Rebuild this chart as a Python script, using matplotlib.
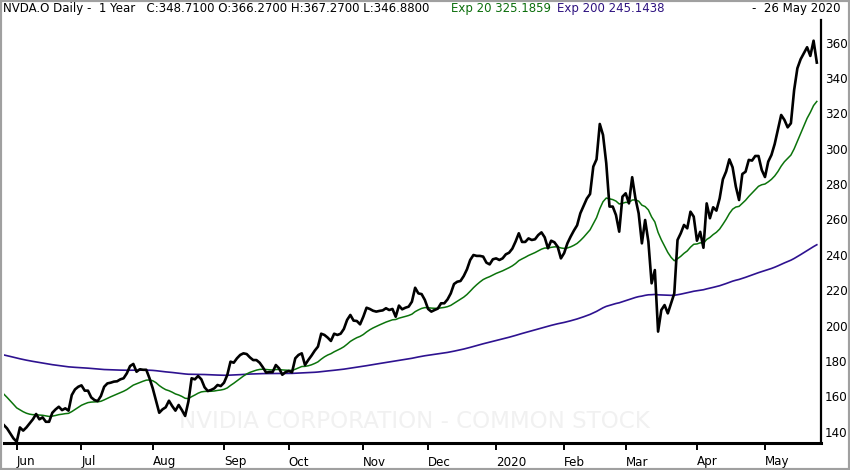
import numpy as np
import pandas as pd
import matplotlib
matplotlib.use("Agg")
import matplotlib.pyplot as plt
from matplotlib.patches import Rectangle

# ---- data -------------------------------------------------------------
holidays = ["2019-07-04", "2019-09-02", "2019-11-28", "2019-12-25", "2020-01-01",
            "2020-01-20", "2020-02-17", "2020-04-10", "2020-05-25"]
start_date = "2019-05-28"
end_date = "2020-05-26"

close = [
    143.8, 141.9, 139.0, 136.2, 134.3, 142.4, 140.6, 142.4, 144.7, 147.0,
    150.0, 147.0, 148.1, 145.6, 145.6, 150.7, 152.6, 154.1, 152.2, 153.2,
    151.9, 160.7, 163.9, 165.4, 166.2, 163.2, 163.2, 159.4, 157.9, 157.3,
    160.2, 165.4, 167.3, 167.7, 168.3, 168.5, 169.6, 170.2, 173.0, 177.1,
    178.3, 173.9, 175.3, 175.0, 175.0, 170.2, 164.5, 157.5, 150.7, 152.6,
    153.8, 157.5, 154.5, 151.9, 155.1, 152.2, 148.9, 157.0, 170.2, 169.6,
    171.5, 169.6, 165.1, 163.0, 163.6, 164.5, 166.4, 165.8, 167.7, 172.0,
    179.6, 179.0, 181.5, 183.4, 184.3, 183.9, 182.0, 180.5, 180.5, 179.0,
    176.4, 173.4, 173.7, 173.7, 177.7, 175.8, 172.2, 173.7, 174.3, 173.6,
    181.5, 183.4, 184.3, 177.7, 180.5, 183.0, 185.8, 188.1, 195.4, 194.7,
    193.2, 191.3, 195.4, 194.7, 195.4, 198.1, 203.2, 206.0, 202.8, 202.6,
    200.7, 205.0, 210.1, 209.4, 208.4, 207.9, 208.3, 208.6, 209.8, 208.8,
    209.4, 205.0, 211.3, 209.2, 210.1, 210.7, 213.5, 221.4, 218.2, 217.8,
    214.5, 209.4, 207.9, 208.8, 209.6, 212.6, 212.6, 214.8, 218.2, 223.5,
    224.8, 225.2, 228.0, 231.8, 237.1, 239.9, 239.4, 239.4, 239.0, 235.6,
    234.6, 237.5, 238.0, 237.1, 238.0, 240.3, 241.2, 243.5, 247.5, 252.2,
    247.3, 247.3, 249.3, 248.4, 248.8, 251.2, 252.7, 249.9, 243.7, 248.0,
    247.1, 244.6, 238.0, 241.0, 246.5, 250.3, 253.7, 256.7, 263.5, 267.6,
    271.8, 274.4, 289.9, 294.0, 314.0, 307.8, 291.8, 267.3, 267.3, 262.5,
    253.1, 272.9, 274.8, 269.1, 283.9, 272.0, 263.5, 246.5, 259.7, 247.5,
    223.9, 231.4, 196.6, 208.8, 211.6, 206.9, 212.6, 218.2, 248.4, 252.2,
    256.9, 255.0, 264.4, 261.6, 248.0, 253.0, 244.0, 269.1, 260.7, 266.9,
    265.0, 271.9, 282.7, 287.1, 294.0, 289.5, 278.6, 271.0, 285.7, 287.0,
    293.7, 293.3, 295.9, 295.9, 288.0, 284.0, 292.7, 296.5, 302.7, 311.0,
    319.1, 316.3, 312.1, 314.4, 333.2, 345.5, 350.6, 354.0, 357.4, 352.5,
    361.1, 348.71,
]
ema20_seed = 161.3    # value of Exp 20 line at the first bar
ema200_seed = 183.4   # value of Exp 200 line at the first bar

y_ticks = [140, 160, 180, 200, 220, 240, 260, 280, 300, 320, 340, 360]

header_main = "NVDA.O Daily -  1 Year   C:348.7100 O:366.2700 H:367.2700 L:346.8800"
header_ema20 = "Exp 20 325.1859"
header_ema200 = "Exp 200 245.1438"
header_date = "-  26 May 2020"
watermark = "NVIDIA CORPORATION - COMMON STOCK"

# ---- derived ----------------------------------------------------------
dates = pd.bdate_range(start_date, end_date, freq="C", holidays=holidays)
n = min(len(dates), len(close))
dates = dates[:n]
close = np.array(close[:n])
x = np.arange(n)


def ema(values, span, seed):
    alpha = 2.0 / (span + 1)
    out = np.empty(len(values))
    prev = seed
    out[0] = seed
    for i in range(1, len(values)):
        prev = prev + alpha * (values[i] - prev)
        out[i] = prev
    return out


ema20 = ema(close, 20, ema20_seed)
ema200 = ema(close, 200, ema200_seed)

month_idx = [i for i in range(1, n) if dates[i].month != dates[i - 1].month]
month_lbl = [("%d" % dates[i].year) if dates[i].month == 1 else dates[i].strftime("%b")
             for i in month_idx]

# ---- figure -----------------------------------------------------------
W, H = 850, 470
fig = plt.figure(figsize=(W / 100, H / 100), dpi=100)
fig.patch.set_facecolor("white")

ax_l, ax_r, ax_t, ax_b = 4, 820.7, 20, 443
ax = fig.add_axes([ax_l / W, (H - ax_b) / H, (ax_r - ax_l) / W, (ax_b - ax_t) / H])
ax.set_facecolor("white")

ax.text(0.503, 0.05, watermark, transform=ax.transAxes, ha="center", va="center",
        fontsize=16.6, color="#f1f1f1", zorder=0)

ax.plot(x, ema200, color="#2e1290", lw=1.2, zorder=2)
ax.plot(x, ema20, color="#0b730b", lw=1.1, zorder=3)
ax.plot(x, close, color="black", lw=1.9, zorder=4, solid_joinstyle="round")

ax.set_xlim(0.08, 252.2)
ax.set_ylim(133.6, 372.8)

for s in ("top", "left"):
    ax.spines[s].set_visible(False)
ax.spines["bottom"].set_linewidth(2.2)
ax.spines["right"].set_linewidth(1.6)

ax.yaxis.tick_right()
ax.set_yticks(y_ticks)
ax.set_yticklabels([str(v) for v in y_ticks])
ax.tick_params(axis="y", length=0, pad=3, labelsize=8.6, colors="black")

ax.set_xticks(month_idx)
ax.set_xticklabels(month_lbl)
ax.tick_params(axis="x", length=5, width=1.4, pad=4, labelsize=8.6, direction="out")
for lab in ax.get_xticklabels():
    lab.set_ha("left")


# header
def fx(px):
    return px / W


def fy(py):
    return 1 - py / H


hy = 8.5
fig.text(fx(3), fy(hy), header_main, ha="left", va="center", fontsize=8.5, color="black")
renderer = fig.canvas.get_renderer()
t20 = fig.text(fx(451), fy(hy), header_ema20, ha="left", va="center", fontsize=8.5,
               color="#0b6e0b")
bb = t20.get_window_extent(renderer)
fig.text(bb.x1 / W + fx(6), fy(hy), header_ema200, ha="left", va="center", fontsize=8.5,
         color="#2e1280")
fig.text(fx(840), fy(hy), header_date, ha="right", va="center", fontsize=8.5, color="black")

fig.patches.append(Rectangle((0, 0), 1, 1, transform=fig.transFigure, fill=False,
                             edgecolor="#a0a0a0", lw=3, zorder=10))

fig.savefig("out.png", dpi=100, facecolor="white")
